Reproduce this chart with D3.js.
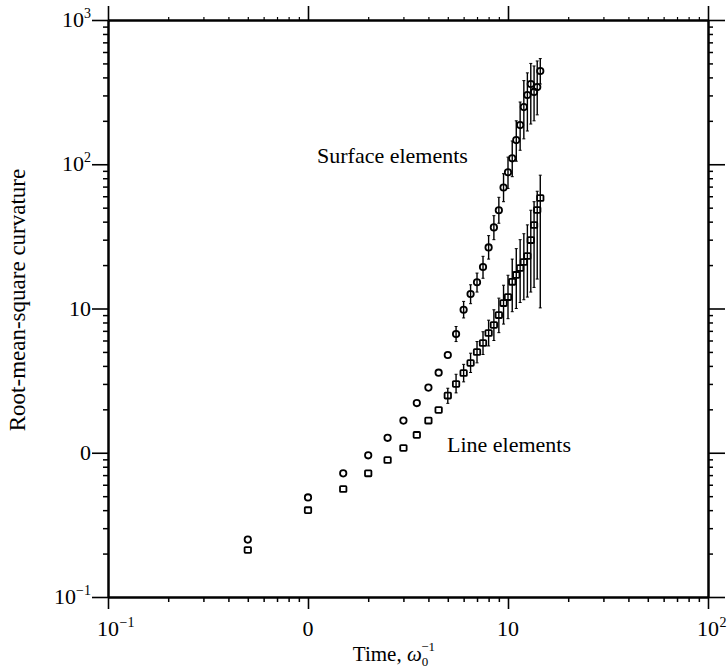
<!DOCTYPE html>
<html>
<head>
<meta charset="utf-8">
<script src="https://cdn.jsdelivr.net/npm/d3@7"></script>
<style>
  body { margin: 0; background: #fff; }
  svg { display: block; font-family: "Liberation Serif", "Times New Roman", serif; }
</style>
</head>
<body>
<svg id="chart" width="727" height="671"></svg>
<script>
// sample times (units of 1/omega_0)
const times = [0.5, 1, 1.5, 2, 2.5, 3, 3.5, 4, 4.5, 5, 5.5, 6, 6.5, 7, 7.5, 8, 8.5, 9, 9.5, 10,
  10.5, 11, 11.5, 12, 12.5, 13, 13.5, 14, 14.5];

// surface elements (circles)
const surfaceVals = [0.25, 0.49, 0.72, 0.96, 1.27, 1.67, 2.21, 2.83, 3.59, 4.76, 6.65, 9.8, 12.6, 15.2,
  19.4, 26.5, 36.5, 48, 69, 88, 110, 147, 187, 249, 302, 360, 317, 343, 443];
const surfaceLo = [null, null, null, null, null, null, null, null, null, null, 5.9, 8.6, 10.8, 13,
  16.2, 22, 30, 39, 55, 68, 82, 105, 125, 150, 170, 190, 200, 220, 360];
const surfaceHi = [null, null, null, null, null, null, null, null, null, null, 7.5, 11.2, 14.6, 17.6,
  23, 32, 44, 59, 86, 112, 145, 200, 270, 380, 430, 500, 480, 520, 540];

// line elements (squares)
const lineVals = [0.212, 0.40, 0.56, 0.72, 0.89, 1.08, 1.33, 1.67, 1.98, 2.49, 3.0, 3.57, 4.19, 4.99,
  5.76, 6.76, 7.69, 9.0, 10.9, 12.0, 15.3, 17.1, 19.1, 21.0, 23.1, 29.8, 37.9, 48.2, 58.3];
const lineLo = [null, null, null, null, null, null, null, null, null, 2.2, 2.6, 3.1, 3.6, 4.2,
  4.8, 5.5, 6.0, 6.8, 7.8, 8.5, 9.5, 10, 11, 11.5, 12, 13, 14, 16, 10.1];
const lineHi = [null, null, null, null, null, null, null, null, null, 2.8, 3.5, 4.1, 4.9, 5.9,
  6.9, 8.3, 9.8, 11.8, 14.5, 17, 22, 26, 30, 33, 38, 48, 55, 65, 84];

const xTicks = [0.1, 1, 10, 100];
const xTickLabels = [["10", "−1"], ["0", ""], ["10", ""], ["10", "2"]];
const yTicks = [0.1, 1, 10, 100, 1000];
const yTickLabels = [["10", "−1"], ["0", ""], ["10", ""], ["10", "2"], ["10", "3"]];

const W = 727, H = 671;
const plot = { left: 108, right: 708, top: 20, bottom: 597 };

const svg = d3.select("#chart");
svg.append("rect").attr("width", W).attr("height", H).attr("fill", "#fff");

const x = d3.scaleLog().domain([0.1, 100]).range([plot.left, plot.right]);
const y = d3.scaleLog().domain([0.1, 1000]).range([plot.bottom, plot.top]);

const isMajor = (list, v) => list.some(t => Math.abs(t - v) / t < 1e-6);
const xMinor = x.ticks().filter(v => !isMajor(xTicks, v));
const yMinor = y.ticks().filter(v => !isMajor(yTicks, v));

// axes on all four sides, ticks pointing outward
function drawAxis(axisFn, scale, majors, minors, transform, majorLen, minorLen, minorWidth) {
  const gMin = svg.append("g").attr("transform", transform)
    .call(axisFn(scale).tickValues(minors).tickSize(minorLen).tickSizeOuter(0).tickFormat(""));
  gMin.selectAll(".tick line").attr("stroke", "#000").attr("stroke-width", minorWidth);
  const gMaj = svg.append("g").attr("transform", transform)
    .call(axisFn(scale).tickValues(majors).tickSize(majorLen).tickSizeOuter(0).tickFormat(""));
  gMaj.selectAll(".tick line").attr("stroke", "#000").attr("stroke-width", 1.6);
  svg.selectAll("path.domain").attr("stroke", "#000").attr("stroke-width", 2);
}
drawAxis(d3.axisBottom, x, xTicks, xMinor, `translate(0,${plot.bottom})`, 12, 5, 1.5);
drawAxis(d3.axisTop, x, xTicks, xMinor, `translate(0,${plot.top})`, 14, 3, 1.2);
drawAxis(d3.axisLeft, y, yTicks, yMinor, `translate(${plot.left},0)`, 16, 5, 1.5);
drawAxis(d3.axisRight, y, yTicks, yMinor, `translate(${plot.right},0)`, 17, 5, 1.5);

// tick labels: base centred on tick, exponent hanging to the right
const labelSize = 22, expSize = 14;
xTicks.forEach((v, i) => {
  const [base, exp] = xTickLabels[i];
  const t = svg.append("text")
    .attr("x", x(v)).attr("y", 636)
    .attr("text-anchor", "middle")
    .attr("font-size", labelSize)
    .text(base);
  if (exp) {
    const w = t.node().getComputedTextLength();
    svg.append("text")
      .attr("x", x(v) + w / 2 + 0.5).attr("y", 627)
      .attr("font-size", expSize)
      .text(exp);
  }
});
yTicks.forEach((v, i) => {
  const [base, exp] = yTickLabels[i];
  const g = svg.append("text")
    .attr("x", 91).attr("y", y(v) + 7)
    .attr("text-anchor", "end")
    .attr("font-size", labelSize);
  g.append("tspan").text(base);
  if (exp) {
    g.append("tspan").attr("font-size", expSize).attr("dy", -9).text(exp);
  }
});

// axis titles
svg.append("text")
  .attr("transform", "translate(25,300) rotate(-90)")
  .attr("text-anchor", "middle")
  .attr("font-size", 23)
  .text("Root-mean-square curvature");

const xl = svg.append("text")
  .attr("x", 394).attr("y", 661)
  .attr("text-anchor", "middle")
  .attr("font-size", 21);
xl.append("tspan").text("Time, ");
xl.append("tspan").attr("font-style", "italic").text("ω");
xl.append("tspan").attr("font-size", 13).attr("dy", 5).text("0");
xl.append("tspan").attr("font-size", 13).attr("dx", -7).attr("dy", -15).text("−1");

// series annotations
svg.append("text").attr("x", 317).attr("y", 163).attr("font-size", 22).text("Surface elements");
svg.append("text").attr("x", 447).attr("y", 452).attr("font-size", 22).text("Line elements");

// error bars
function errorBars(vals, lo, hi) {
  const rows = times.map((t, i) => ({ t, v: vals[i], lo: lo[i], hi: hi[i] })).filter(d => d.lo != null);
  const g = svg.append("g").attr("stroke", "#000");
  g.selectAll("line.bar").data(rows).enter().append("line")
    .attr("class", "bar")
    .attr("x1", d => x(d.t)).attr("x2", d => x(d.t))
    .attr("y1", d => y(d.lo)).attr("y2", d => y(d.hi))
    .attr("stroke-width", 1.4);
  g.selectAll("line.cap").data(rows.flatMap(d => [{ t: d.t, v: d.lo }, { t: d.t, v: d.hi }]))
    .enter().append("line")
    .attr("class", "cap")
    .attr("x1", d => x(d.t) - 1.5).attr("x2", d => x(d.t) + 1.5)
    .attr("y1", d => y(d.v)).attr("y2", d => y(d.v))
    .attr("stroke-width", 1);
}
errorBars(surfaceVals, surfaceLo, surfaceHi);
errorBars(lineVals, lineLo, lineHi);

// markers
svg.append("g").selectAll("circle").data(times).enter().append("circle")
  .attr("cx", t => x(t))
  .attr("cy", (t, i) => y(surfaceVals[i]))
  .attr("r", 3.2)
  .attr("fill", "none")
  .attr("stroke", "#000")
  .attr("stroke-width", 1.8);

svg.append("g").selectAll("rect").data(times).enter().append("rect")
  .attr("x", t => x(t) - 3.2)
  .attr("y", (t, i) => y(lineVals[i]) - 2.9)
  .attr("width", 6.4)
  .attr("height", 5.8)
  .attr("rx", 0.8)
  .attr("fill", "none")
  .attr("stroke", "#000")
  .attr("stroke-width", 1.8);
</script>
</body>
</html>
